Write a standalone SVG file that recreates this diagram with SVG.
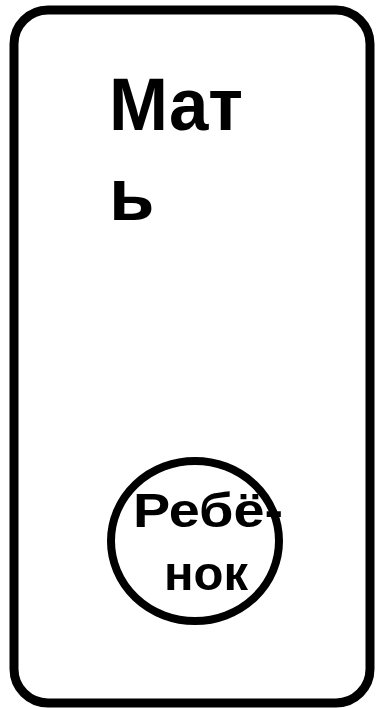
<svg xmlns="http://www.w3.org/2000/svg" width="376" height="708" viewBox="0 0 376 708">
<style>
.shape{fill:#fff;stroke:#000;stroke-width:9}
.big{font-family:"Liberation Sans",Arial,sans-serif;font-weight:bold;font-size:74px;fill:#000}
.small{font-family:"Liberation Sans",Arial,sans-serif;font-weight:bold;font-size:48px;fill:#000}
</style>
<rect width="376" height="708" fill="#fff"/>
<g id="mother">
<rect class="shape" x="14" y="10" width="356" height="693" rx="34" ry="34"/>
<text class="big" x="109" y="130" textLength="134" lengthAdjust="spacingAndGlyphs">Мат</text>
<text class="big" x="109" y="220">ь</text>
</g>
<g id="child">
<ellipse class="shape" cx="195" cy="541" rx="84" ry="80" style="stroke-width:8"/>
<text class="small" x="133" y="527" textLength="150" lengthAdjust="spacingAndGlyphs">Ребё-</text>
<text class="small" x="164" y="590" textLength="84" lengthAdjust="spacingAndGlyphs">нок</text>
</g>
<g id="connectors"/>
</svg>
